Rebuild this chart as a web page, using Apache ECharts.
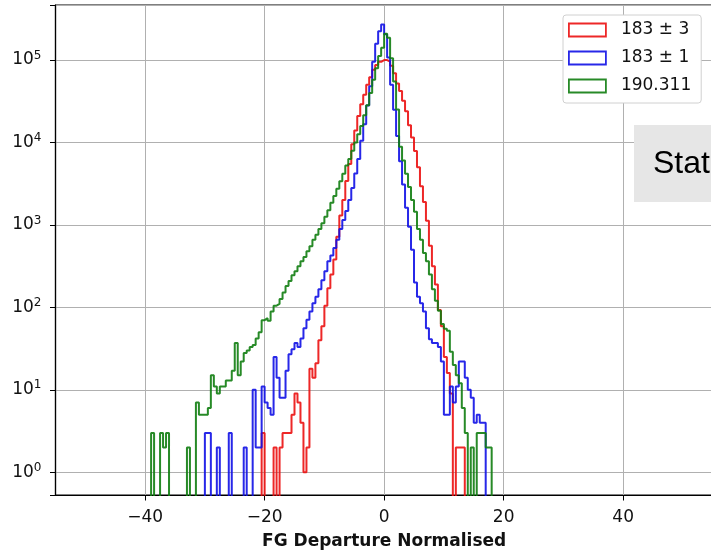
<!DOCTYPE html>
<html>
<head>
<meta charset="utf-8">
<script src="https://cdn.jsdelivr.net/npm/echarts@6/dist/echarts.min.js"></script>
<style>
  html, body { margin: 0; padding: 0; background: #fff; }
  #chart { width: 711px; height: 550px; }
</style>
</head>
<body>
<div id="chart"></div>
<script>
// histogram bins: left edge of first bin and bin width (FG departure units)
const binStart = -40
const binWidth = 0.5

// counts per bin, 116 bins from -40 to 18
const red183p3 = [
  0, 0, 0, 0, 0, 0, 0, 0, 0, 0,
  0, 0, 0, 0, 0, 0, 0, 0, 0, 0,
  0, 0, 0, 0, 0, 0, 0, 0, 0, 0,
  0, 0, 0, 0, 0, 0, 0, 0, 0, 3,
  0, 0, 0, 2, 0, 2, 3, 3, 3, 5,
  9, 7, 4, 1, 2, 18, 14, 21, 40, 59,
  105, 170, 250, 380, 720, 1300, 2000, 3400, 5500, 9500,
  14000, 21000, 29000, 38000, 50000, 62000, 76000, 87000, 95000, 100000,
  100000, 96000, 85000, 69000, 52000, 42000, 32000, 24000, 16200, 11500,
  7900, 5000, 2950, 1900, 1120, 560, 316, 190, 93, 59,
  25, 16, 9, 0, 2, 2, 2, 0, 0, 0,
  0, 0, 0, 0, 0, 0,
]
const blue183p1 = [
  0, 0, 0, 0, 0, 0, 0, 0, 0, 0,
  0, 0, 0, 0, 0, 0, 0, 0, 0, 0,
  3, 3, 0, 0, 2, 0, 0, 0, 3, 0,
  0, 0, 0, 2, 0, 0, 10, 2, 2, 11,
  7, 6, 5, 25, 14, 8, 8, 17, 27, 31,
  37, 33, 42, 56, 71, 89, 112, 135, 166, 214,
  275, 363, 427, 525, 660, 890, 1150, 1480, 2000, 2800,
  4200, 6300, 10500, 16600, 28000, 48000, 95000, 158000, 224000, 270000,
  205000, 107000, 50000, 25000, 12000, 5900, 3100, 1620, 950, 500,
  200, 135, 112, 89, 56, 41, 37, 37, 33, 22,
  5, 5, 11, 7, 11, 22, 22, 14, 10, 8,
  4, 5, 4, 4, 0, 0,
]
const green190 = [
  0, 0, 3, 0, 0, 3, 2, 3, 0, 0,
  0, 0, 0, 0, 2, 0, 0, 7, 5, 5,
  5, 6, 15, 11, 9, 11, 11, 13, 13, 17,
  37, 15, 22, 28, 30, 33, 35, 42, 50, 70,
  74, 69, 89, 105, 110, 126, 151, 182, 209, 245,
  275, 316, 363, 407, 479, 550, 661, 759, 891, 1047,
  1260, 1510, 1860, 2240, 2750, 3390, 4170, 5250, 6310, 7940,
  10000, 12600, 15800, 21400, 28200, 39800, 57500, 79400, 112000, 141000,
  209000, 186000, 105000, 55000, 25100, 8900, 6030, 4170, 2880, 2000,
  1445, 891, 661, 457, 363, 251, 166, 120, 91, 63,
  55, 52, 29, 20, 15, 12, 6, 3, 0, 2,
  0, 3, 3, 3, 2, 2,
]

const seriesNames = ['183 ± 3', '183 ± 1', '190.311']
const seriesColors = ['rgba(235,15,15,0.9)', 'rgba(15,15,230,0.9)', 'rgba(15,125,15,0.9)']

const xTicks = [-40, -20, 0, 20, 40]
const X_MIN = -55
const X_MAX = 55
const Y_MIN = 0.53
const Y_MAX = 465000
// matplotlib style minor ticks 2..9 per decade
const yMinorTicks = [
  0.6, 0.7, 0.8, 0.9,
  2, 3, 4, 5, 6, 7, 8, 9,
  20, 30, 40, 50, 60, 70, 80, 90,
  200, 300, 400, 500, 600, 700, 800, 900,
  2000, 3000, 4000, 5000, 6000, 7000, 8000, 9000,
  20000, 30000, 40000, 50000, 60000, 70000, 80000, 90000,
  200000, 300000, 400000,
]

// empty bins sit below the axis so the step outline drops out of view
const FLOOR = 0.05

function stepPoints(counts) {
  let pts = []
  counts.forEach((c, i) => {
    pts.push([binStart + i * binWidth, c > 0 ? c : FLOOR])
  })
  pts.push([binStart + counts.length * binWidth, FLOOR])
  return pts
}

const font = 'DejaVu Sans'
let myChart = echarts.init(document.getElementById('chart'), null, { renderer: 'canvas' })

let option = {
  animation: false,
  grid: {
    left: 55.5,
    top: 5,
    width: 657.25,
    height: 490,
    outerBoundsMode: 'none',
    containLabel: false,
    show: true,
    borderColor: '#000',
    borderWidth: 1.2,
  },
  legend: {
    orient: 'vertical',
    left: 563,
    top: 15,
    padding: [5, 10, 7, 5],
    itemGap: 8,
    itemWidth: 37,
    itemHeight: 13,
    backgroundColor: '#fff',
    borderColor: '#d0d0d0',
    borderWidth: 1,
    borderRadius: 3,
    textStyle: {
      fontFamily: font,
      fontSize: 17,
      color: '#111',
      lineHeight: 20,
      padding: [0, 0, 0, 10],
    },
    data: seriesNames.map((n, i) => ({
      name: n,
      icon: 'rect',
      itemStyle: { color: 'rgba(0,0,0,0)', borderColor: seriesColors[i], borderWidth: 1.8 },
    })),
  },
  xAxis: {
    type: 'value',
    min: X_MIN,
    max: X_MAX,
    name: 'FG Departure Normalised',
    nameLocation: 'middle',
    nameGap: 38,
    nameTextStyle: { fontFamily: font, fontSize: 17, fontWeight: 'bold', color: '#111' },
    axisLine: { show: true, onZero: false, lineStyle: { color: '#000', width: 1.2 } },
    axisTick: { show: true, length: 5.5, customValues: xTicks, lineStyle: { color: '#000', width: 1 } },
    axisLabel: {
      customValues: xTicks,
      margin: 14,
      fontFamily: font,
      fontSize: 17,
      color: '#111',
      formatter: (v) => (v < 0 ? '\u2212' + Math.abs(v) : String(v)),
    },
    splitLine: { show: true, lineStyle: { color: '#b0b0b0', width: 1 } },
  },
  yAxis: [
    {
      type: 'log',
      logBase: 10,
      min: Y_MIN,
      max: Y_MAX,
      axisLine: { show: true, onZero: false, lineStyle: { color: '#000', width: 1.2 } },
      axisTick: { show: true, length: 5.5, lineStyle: { color: '#000', width: 1 } },
      axisLabel: {
        margin: 14,
        formatter: (v) => {
          let e = Math.log10(v)
          if (Math.abs(e - Math.round(e)) > 1e-6) return ''
          return '{b|10}{s|' + Math.round(e) + '}'
        },
        rich: {
          b: { fontFamily: font, fontSize: 17, color: '#111' },
          s: { fontFamily: font, fontSize: 12, color: '#111', padding: [0, 0, 9, 0] },
        },
      },
      splitLine: { show: true, lineStyle: { color: '#b0b0b0', width: 1 } },
    },
    {
      // minor ticks only
      type: 'value',
      min: Math.log10(Y_MIN),
      max: Math.log10(Y_MAX),
      axisLine: { show: false, onZero: false },
      axisLabel: { show: false },
      splitLine: { show: false },
      axisTick: {
        show: true,
        length: 3.3,
        customValues: yMinorTicks.map((v) => Math.log10(v)),
        lineStyle: { color: '#000', width: 0.8 },
      },
    },
  ],
  series: [red183p3, blue183p1, green190].map((counts, i) => ({
    name: seriesNames[i],
    type: 'line',
    step: 'end',
    symbol: 'none',
    clip: true,
    yAxisIndex: 0,
    lineStyle: { color: seriesColors[i], width: 2 },
    itemStyle: { color: seriesColors[i] },
    data: stepPoints(counts),
  })),
  graphic: [
    {
      type: 'rect',
      z: 100,
      shape: { x: 634, y: 125, width: 90, height: 77 },
      style: { fill: '#e6e6e6' },
    },
    {
      type: 'text',
      z: 101,
      x: 653,
      y: 164,
      style: { text: 'Stat', font: '32px "Liberation Sans"', fill: '#000', verticalAlign: 'middle' },
    },
  ],
}
myChart.setOption(option, true)
</script>
</body>
</html>
